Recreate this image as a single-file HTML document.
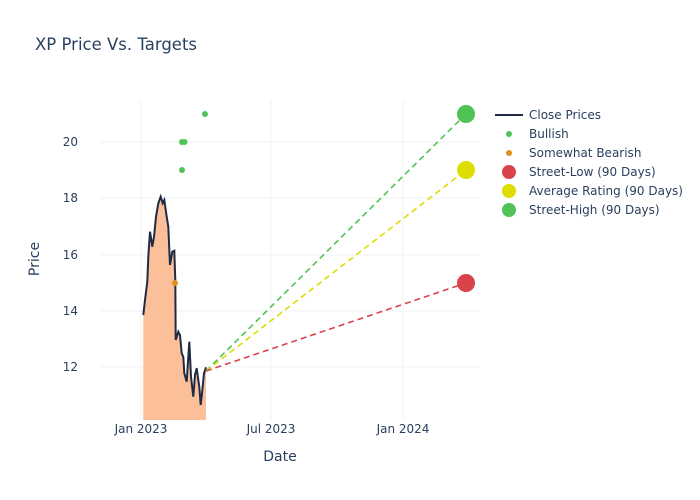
<!DOCTYPE html>
<html><head><style>body{margin:0;background:#fff}svg{display:block}text{font-family:"DejaVu Sans","Liberation Sans",sans-serif;fill:#2a3f5f}</style></head><body>
<svg width="700" height="500" xmlns="http://www.w3.org/2000/svg">
<text x="35" y="50" font-size="16.5">XP Price Vs. Targets</text>
<g stroke="#eef1f6" stroke-width="1">
<line x1="100" x2="480" y1="367" y2="367"/><line x1="100" x2="480" y1="311" y2="311"/><line x1="100" x2="480" y1="255" y2="255"/><line x1="100" x2="480" y1="198" y2="198"/><line x1="100" x2="480" y1="142" y2="142"/>
<line x1="141" x2="141" y1="100" y2="420"/><line x1="271" x2="271" y1="100" y2="420"/><line x1="403" x2="403" y1="100" y2="420"/>
</g>
<g font-size="12" text-anchor="end"><text x="78" y="371">12</text><text x="78" y="315">14</text><text x="78" y="259">16</text><text x="78" y="202">18</text><text x="78" y="146">20</text></g>
<g font-size="12" text-anchor="middle"><text x="141" y="433">Jan 2023</text><text x="271" y="433">Jul 2023</text><text x="403" y="433">Jan 2024</text></g>
<text x="280" y="461" font-size="14" text-anchor="middle">Date</text>
<text x="39" y="259" font-size="14" text-anchor="middle" transform="rotate(-90 39 259)">Price</text>
<polygon fill="#fbbf9a" points="143.3,420 143.3,315 145,300 147.3,281.7 148.3,256.7 150,231.7 152.3,246.7 154,236.7 156,216.7 158.3,203.3 160.7,196.7 162.7,203.3 164.3,200 166.7,216.7 168.3,226.7 170,265 172.3,251.7 174.3,250.7 175.3,280 175.7,340 178.3,331.7 180,335 181.7,353.3 183.3,356.7 184.3,373.3 186.7,381.7 189.3,341.7 191,376.7 193.3,396.7 195,375 196.7,368.3 198.3,380 199.3,386.7 200.7,405 202,393.3 204,373.3 206,367.3 206,420"/>
<polyline fill="none" stroke="#1f2a44" stroke-width="2" points="143.3,315 145,300 147.3,281.7 148.3,256.7 150,231.7 152.3,246.7 154,236.7 156,216.7 158.3,203.3 160.7,196.7 162.7,203.3 164.3,200 166.7,216.7 168.3,226.7 170,265 172.3,251.7 174.3,250.7 175.3,280 175.7,340 178.3,331.7 180,335 181.7,353.3 183.3,356.7 184.3,373.3 186.7,381.7 189.3,341.7 191,376.7 193.3,396.7 195,375 196.7,368.3 198.3,380 199.3,386.7 200.7,405 202,393.3 204,373.3 206,367.3"/>
<g stroke-width="1.6" stroke-dasharray="6,4" fill="none">
<line x1="206" y1="371" x2="466" y2="114" stroke="#4fc356"/>
<line x1="206" y1="371" x2="466" y2="170" stroke="#dddd00"/>
<line x1="206" y1="371" x2="466" y2="283" stroke="#d9434a"/>
</g>
<g fill="#4fc356"><circle cx="205" cy="114" r="3"/><circle cx="182" cy="142" r="3"/><circle cx="184.5" cy="142" r="3"/><circle cx="182" cy="170" r="3"/></g>
<circle cx="175" cy="283" r="3" fill="#e0901e"/>
<circle cx="466" cy="283" r="9" fill="#d9434a"/><circle cx="466" cy="170" r="9" fill="#dddd00"/><circle cx="466" cy="114" r="9" fill="#4fc356"/>
<g font-size="12">
<line x1="495" x2="523" y1="115" y2="115" stroke="#1f2a44" stroke-width="2"/><text x="529" y="119">Close Prices</text>
<circle cx="509" cy="134" r="3" fill="#4fc356"/><text x="529" y="138">Bullish</text>
<circle cx="509" cy="153" r="3" fill="#e0901e"/><text x="529" y="157">Somewhat Bearish</text>
<circle cx="509" cy="172" r="7" fill="#d9434a"/><text x="529" y="176">Street-Low (90 Days)</text>
<circle cx="509" cy="191" r="7" fill="#dddd00"/><text x="529" y="195">Average Rating (90 Days)</text>
<circle cx="509" cy="210" r="7" fill="#4fc356"/><text x="529" y="214">Street-High (90 Days)</text>
</g>
</svg>
</body></html>
